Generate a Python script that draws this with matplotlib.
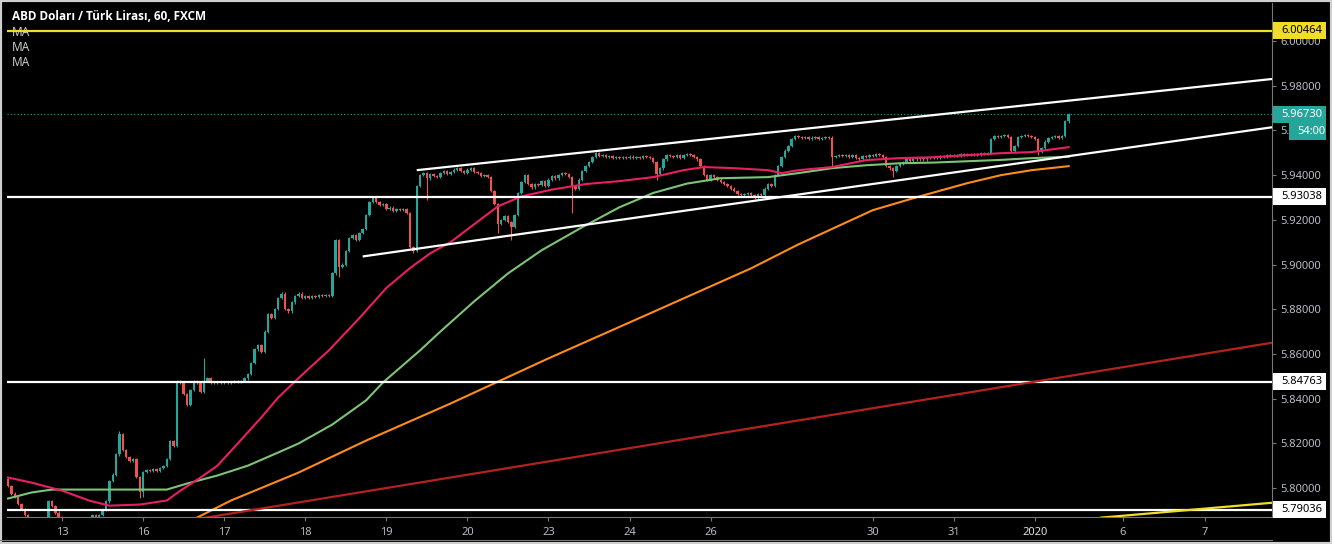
import numpy as np
import matplotlib
matplotlib.use("Agg")
import matplotlib.pyplot as plt
from matplotlib.patches import Rectangle
from matplotlib.transforms import blended_transform_factory

plt.rcParams['font.family'] = ['Noto Sans', 'DejaVu Sans']

# hourly closes, USD/TRY 60m, one value per candle (index 0 = first visible candle)
closes = [
    5.8010, 5.7975, 5.7960, 5.7930, 5.7905, 5.7880, 5.7850, 5.7830, 5.7810, 5.7800,
    5.7815, 5.7830, 5.7940, 5.7920, 5.7890, 5.7870, 5.7860, 5.7845, 5.7830, 5.7820,
    5.7810, 5.7815, 5.7825, 5.7840, 5.7850, 5.7880, 5.7865, 5.7880, 5.7900, 5.7940,
    5.8030, 5.8060, 5.8150, 5.8240, 5.8170, 5.8140, 5.8120, 5.8130, 5.8050, 5.7980,
    5.8070, 5.8080, 5.8075, 5.8085, 5.8078, 5.8090, 5.8100, 5.8130, 5.8210, 5.8190,
    5.8480, 5.8470, 5.8420, 5.8370, 5.8440, 5.8480, 5.8470, 5.8430, 5.8480, 5.8490,
    5.8470, 5.8470, 5.8472, 5.8470, 5.8475, 5.8470, 5.8475, 5.8478, 5.8475, 5.8480,
    5.8490, 5.8510, 5.8560, 5.8620, 5.8640, 5.8610, 5.8700, 5.8780, 5.8760, 5.8800,
    5.8850, 5.8870, 5.8800, 5.8790, 5.8830, 5.8860, 5.8870, 5.8850, 5.8858, 5.8850,
    5.8860, 5.8855, 5.8862, 5.8860, 5.8865, 5.8860, 5.8960, 5.9110, 5.8990, 5.9000,
    5.9060, 5.9120, 5.9130, 5.9110, 5.9140, 5.9160, 5.9220, 5.9280, 5.9300, 5.9280,
    5.9265, 5.9270, 5.9250, 5.9255, 5.9240, 5.9250, 5.9245, 5.9250, 5.9230, 5.9080,
    5.9060, 5.9350, 5.9400, 5.9410, 5.9385, 5.9405, 5.9395, 5.9390, 5.9410, 5.9420,
    5.9405, 5.9415, 5.9425, 5.9430, 5.9420, 5.9410, 5.9425, 5.9430, 5.9415, 5.9410,
    5.9395, 5.9400, 5.9390, 5.9330, 5.9270, 5.9180, 5.9200, 5.9215, 5.9190, 5.9170,
    5.9220, 5.9320, 5.9370, 5.9400, 5.9360, 5.9345, 5.9360, 5.9355, 5.9375, 5.9350,
    5.9380, 5.9395, 5.9385, 5.9400, 5.9410, 5.9405, 5.9390, 5.9350, 5.9340, 5.9380,
    5.9420, 5.9440, 5.9460, 5.9480, 5.9500, 5.9485, 5.9490, 5.9480, 5.9485, 5.9475,
    5.9480, 5.9478, 5.9482, 5.9478, 5.9483, 5.9475, 5.9480, 5.9478, 5.9485, 5.9480,
    5.9475, 5.9460, 5.9405, 5.9430, 5.9470, 5.9490, 5.9485, 5.9480, 5.9490, 5.9475,
    5.9490, 5.9495, 5.9490, 5.9480, 5.9470, 5.9440, 5.9400, 5.9380, 5.9400, 5.9390,
    5.9380, 5.9370, 5.9360, 5.9350, 5.9340, 5.9330, 5.9315, 5.9310, 5.9315, 5.9320,
    5.9310, 5.9300, 5.9315, 5.9310, 5.9340, 5.9360, 5.9350, 5.9400, 5.9440, 5.9480,
    5.9510, 5.9530, 5.9560, 5.9575, 5.9570, 5.9565, 5.9572, 5.9560, 5.9568, 5.9570,
    5.9562, 5.9565, 5.9570, 5.9568, 5.9480, 5.9485, 5.9490, 5.9485, 5.9490, 5.9480,
    5.9488, 5.9475, 5.9470, 5.9485, 5.9480, 5.9490, 5.9485, 5.9495, 5.9490, 5.9480,
    5.9440, 5.9430, 5.9420, 5.9440, 5.9450, 5.9460, 5.9470, 5.9465, 5.9475, 5.9470,
    5.9475, 5.9470, 5.9478, 5.9475, 5.9482, 5.9478, 5.9485, 5.9480, 5.9488, 5.9485,
    5.9490, 5.9488, 5.9495, 5.9490, 5.9495, 5.9490, 5.9495, 5.9490, 5.9498, 5.9495,
    5.9500, 5.9560, 5.9575, 5.9570, 5.9575, 5.9580, 5.9570, 5.9510, 5.9530, 5.9570,
    5.9575, 5.9580, 5.9575, 5.9570, 5.9560, 5.9505, 5.9520, 5.9550, 5.9565, 5.9570,
    5.9575, 5.9565, 5.9575, 5.9640, 5.9673,
]
first_open = 5.8040

# wick extremes that stick out noticeably: index -> (high, low)
wicks = {
    33: (5.8255, None), 39: (None, 5.7957), 40: (None, 5.7960), 58: (5.8580, None),
    98: (None, 5.8945), 120: (None, 5.9050), 124: (None, 5.9290), 145: (None, 5.9140),
    149: (None, 5.9110), 167: (None, 5.9230), 192: (None, 5.9380), 244: (None, 5.9440),
    262: (None, 5.9390), 297: (None, 5.9500), 305: (None, 5.9490), 314: (5.9680, None),
}

# moving averages (candle index, price)
ma_fast_idx = [0, 7, 16, 24, 30, 39, 47, 51, 57, 62, 68, 75, 80, 88, 95, 104, 112, 119,
               125, 131, 138, 145, 152, 161, 171, 181, 191, 200, 206, 215, 225, 229, 234,
               244, 254, 264, 274, 284, 294, 303, 314]
ma_fast = [5.8047, 5.8024, 5.7988, 5.7944, 5.7921, 5.7926, 5.7944, 5.7988, 5.8047, 5.8100,
           5.8199, 5.8316, 5.8405, 5.8520, 5.8616, 5.8760, 5.8895, 5.8984, 5.9050, 5.9100,
           5.9180, 5.9260, 5.9305, 5.9335, 5.9360, 5.9373, 5.9391, 5.9422, 5.9436, 5.9431,
           5.9422, 5.9409, 5.9422, 5.9436, 5.9467, 5.9476, 5.9480, 5.9489, 5.9498, 5.9503,
           5.9525]

ma_mid_idx = [0, 7, 13, 30, 47, 53, 62, 71, 80, 86, 96, 106, 111, 122, 128, 138, 148, 158,
              170, 181, 191, 201, 211, 225, 234, 244, 254, 264, 274, 284, 294, 303, 314]
ma_mid = [5.7953, 5.7980, 5.7993, 5.7993, 5.7993, 5.8020, 5.8056, 5.8100, 5.8159, 5.8199,
          5.8284, 5.8392, 5.8472, 5.8616, 5.8700, 5.8835, 5.8960, 5.9064, 5.9167, 5.9256,
          5.9320, 5.9362, 5.9386, 5.9391, 5.9409, 5.9431, 5.9444, 5.9453, 5.9456, 5.9462,
          5.9468, 5.9476, 5.9482]

ma_slow_idx = [51, 56, 66, 86, 106, 131, 160, 190, 220, 234, 256, 269, 284, 294, 303, 314]
ma_slow = [5.7809, 5.7868, 5.7944, 5.8069, 5.8212, 5.8378, 5.8580, 5.8781, 5.8983, 5.9090,
           5.9243, 5.9301, 5.9364, 5.9400, 5.9422, 5.9440]

# drawn lines: (start index, start price, end index, end price)
channel_top = (121, 5.9422, 374.2, 5.9830)
channel_bottom = (105, 5.9036, 374.2, 5.9614)
red_trend = (58.4, 5.7867, 374.2, 5.8650)
yellow_trend = (323.3, 5.7867, 374.2, 5.7934)

levels_white = [5.93038, 5.84763, 5.79036]
level_yellow = 6.00464
last_price = 5.96730
countdown = "54:00"

day_labels = ["13", "16", "17", "18", "19", "20", "23", "24", "26", "30", "31", "2020", "6", "7"]
day_pos = [16, 40, 64, 88, 112, 136, 160, 184, 208, 256, 280, 304, 330, 354.4]
price_ticks = [5.80, 5.82, 5.84, 5.86, 5.88, 5.90, 5.92, 5.94, 5.96, 5.98, 6.00]

UP = '#26a69a'
DOWN = '#ef5350'
GRID_TXT = '#b8bcc6'

W, H = 1332, 544
fig = plt.figure(figsize=(W / 100, H / 100), dpi=100, facecolor='black')
ax = fig.add_axes([7 / W, 27 / H, (1272 - 7) / W, (517 - 3) / H])
ax.set_facecolor('black')
ax.set_xlim(-0.3, 374.2)
ax.set_ylim(5.78703, 6.0170)

# candles
c = np.array(closes)
o = np.concatenate([[first_open], c[:-1]])
hi = np.maximum(o, c) + 0.0005
lo = np.minimum(o, c) - 0.0005
for k, (h, l) in wicks.items():
    if h is not None:
        hi[k] = h
    if l is not None:
        lo[k] = l
idx = np.arange(len(c))
cols = np.where(c >= o, UP, DOWN)
ax.vlines(idx, lo, hi, colors=cols, lw=0.8, zorder=3)
body = np.maximum(np.abs(c - o), 0.0002)
ax.bar(idx, body, bottom=np.minimum(o, c), width=0.72, color=cols, lw=0, zorder=3)

# moving averages
ax.plot(ma_slow_idx, ma_slow, color='#ff8c1a', lw=1.5, zorder=4)
ax.plot(ma_mid_idx, ma_mid, color='#7cc576', lw=1.5, zorder=4)
ax.plot(ma_fast_idx, ma_fast, color='#e91e63', lw=1.5, zorder=4)

# horizontal levels
for lv in levels_white:
    ax.axhline(lv, color='white', lw=1.6, zorder=5)
ax.axhline(level_yellow, color='#f2dc2a', lw=1.6, zorder=5)
ax.axhline(last_price, color=UP, lw=0.8, ls=(0, (1, 2)), zorder=2)

# trend lines
for seg, col in [(channel_top, 'white'), (channel_bottom, 'white'),
                 (red_trend, '#b3221f'), (yellow_trend, '#f2dc2a')]:
    ax.plot([seg[0], seg[2]], [seg[1], seg[3]], color=col, lw=1.6,
            solid_capstyle='butt', zorder=5)

# axes styling
for s in ['top', 'left']:
    ax.spines[s].set_visible(False)
ax.spines['right'].set_color('#777777')
ax.spines['bottom'].set_color('#777777')
ax.yaxis.tick_right()
ax.set_yticks(price_ticks)
ax.set_yticklabels([f"{p:.5f}" for p in price_ticks])
ax.tick_params(axis='y', colors='#777777', labelcolor=GRID_TXT, length=3, pad=3, labelsize=8)
ax.set_xticks(day_pos)
ax.set_xticklabels(day_labels)
ax.tick_params(axis='x', colors='#777777', labelcolor=GRID_TXT, length=3, pad=4, labelsize=8)
for t in ax.get_xticklabels():
    if t.get_text() == "2020":
        t.set_fontweight('bold')
        t.set_color('#e0e0e0')

# header text
ax.text(5 / 1265, 1 - 13 / 514, "ABD Doları / Türk Lirası, 60, FXCM", transform=ax.transAxes,
        color='white', fontsize=8.5, fontweight='bold', va='center', ha='left', zorder=1,
        family=['Open Sans', 'DejaVu Sans'])
for n in range(3):
    ax.text(5 / 1265, 1 - (29 + n * 15.5) / 514, "MA", transform=ax.transAxes,
            color='#c8c8c8', fontsize=8.5, va='center', ha='left', zorder=1)

# right-axis price boxes
bt = blended_transform_factory(fig.transFigure, ax.transData)
box_h = 17 * 0.0004474


def price_box(y, text, face, tcolor, x0=1273, x1=1326):
    ax.add_patch(Rectangle((x0 / W, y - box_h / 2), (x1 - x0) / W, box_h, transform=bt,
                           facecolor=face, edgecolor='none', clip_on=False, zorder=10))
    ax.text((x0 + 8) / W, y, text, transform=bt, color=tcolor, fontsize=8,
            va='center', ha='left', clip_on=False, zorder=11)


price_box(level_yellow, f"{level_yellow:.5f}", '#f2dc2a', 'black')
for lv in levels_white:
    price_box(lv, f"{lv:.5f}", 'white', 'black')
price_box(last_price, f"{last_price:.5f}", UP, 'white')
price_box(last_price - 17 * 0.0004474, countdown, UP, 'white', x0=1289)

# outer frame
fig.add_artist(Rectangle((0, 0), 1, 1, transform=fig.transFigure, fill=False,
                         edgecolor='#cfcfcf', lw=3))
fig.add_artist(plt.Line2D([0, 1272 / W], [4 / H, 4 / H], transform=fig.transFigure,
                          color='#777777', lw=0.8))

fig.savefig('out.png', dpi=100, facecolor='black')
